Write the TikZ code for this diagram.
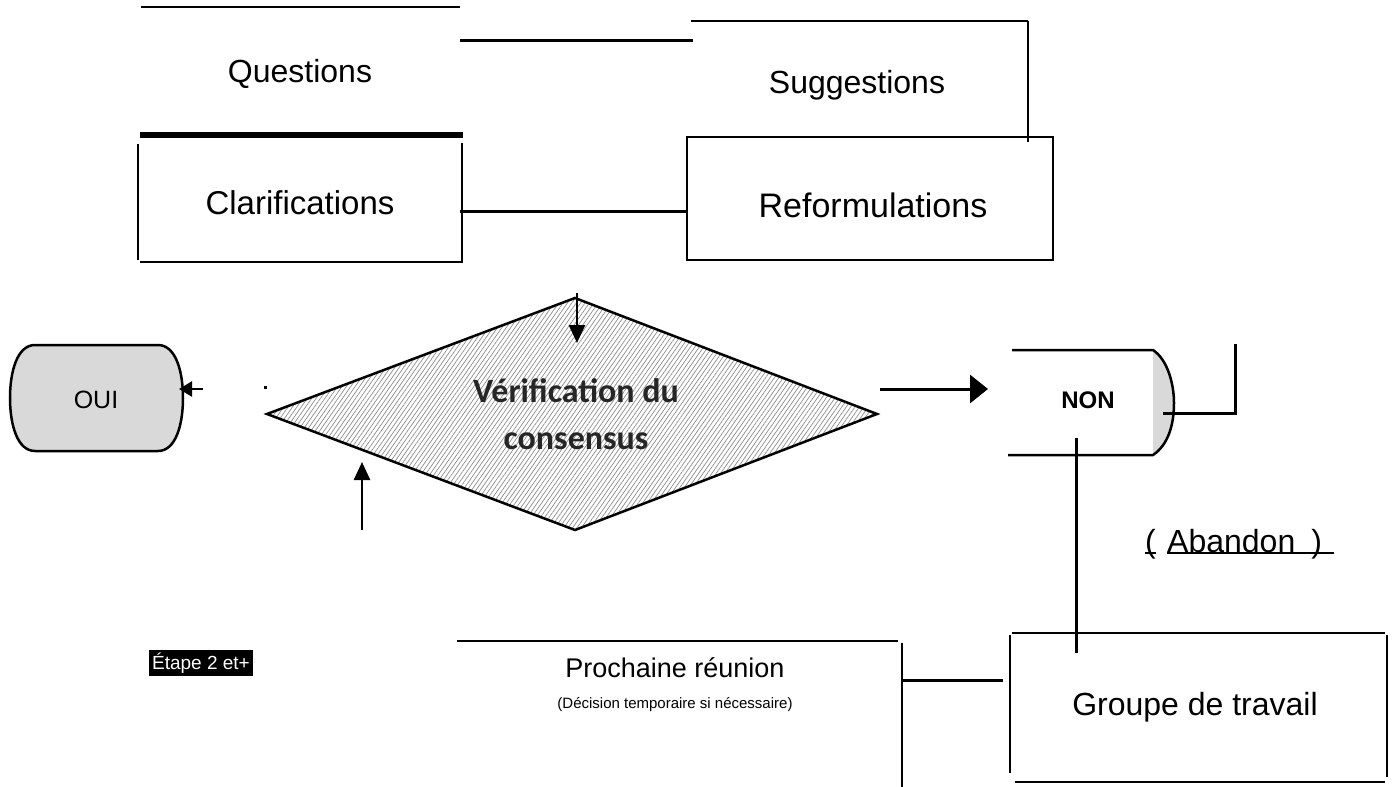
\documentclass[tikz,border=0pt]{standalone}
\usepackage{fontspec}
\setmainfont{Liberation Sans}
\newfontfamily\calib{Carlito}
\usetikzlibrary{arrows.meta,patterns.meta}
\definecolor{lgray}{HTML}{D9D9D9}
\begin{document}
\begin{tikzpicture}[x=1pt,y=-1pt,
  thinln/.style={line width=1.5pt},
  midln/.style={line width=2.5pt},
  conn/.style={line width=3pt},
  lbl/.style={font=\fontsize{32}{38}\selectfont, inner sep=0pt},
  small/.style={font=\fontsize{15}{18}\selectfont, inner sep=0pt},
  arr/.style={line width=2.5pt, -{Triangle[length=18pt,width=16pt]}},
]
\useasboundingbox (0,0) rectangle (1398,787);
% ---- top left: Questions / Clarifications
\node[lbl] (q) at (300,74) {Questions};
\node[lbl, font=\fontsize{33}{39}\selectfont] (c) at (300,203) {Clarifications};
\draw[midln] (141,7) -- (460,7);
\draw[line width=6pt] (140,135) -- (463,135);
\draw[thinln] (138,144) -- (138,260);
\draw[thinln] (462,143) -- (462,262) -- (140,262);
% ---- Suggestions / Reformulations
\node[lbl] (s) at (857,85) {Suggestions};
\draw[thinln] (691,21) -- (1028,21);
\draw[line width=2pt] (1028,21) -- (1028,142);
\node[draw, thinln, minimum width=366pt, minimum height=123pt, inner sep=0pt] (rbox) at (870,198.5) {};
\node[lbl, font=\fontsize{34}{40}\selectfont] (r) at (873,205) {Reformulations};
% connectors top
\coordinate (qr) at (460,40);
\coordinate (sl) at (693,40);
\draw[conn] (qr) -- (sl);
\coordinate (cr) at (460,211);
\draw[conn] (cr) -- (rbox.west |- cr);
% ---- diamond
\path[pattern={Lines[angle=55,distance=3.6pt,line width=0.7pt]}, pattern color=black!45]
  (267,414) -- (575,298) -- (877,414) -- (575,530) -- cycle;
\draw[midln] (267,414) -- (575,298) -- (877,414) -- (575,530) -- cycle;
\node[font=\calib\bfseries\fontsize{34}{47}\selectfont, text=black!85, align=center, inner sep=0pt] (d) at (576,414)
  {Vérification du\\consensus};
\coordinate (dtop) at (577,293);
\coordinate (dtopend) at (577,343);
\draw[arr] (dtop) -- (dtopend);
\coordinate (upst) at (362,530);
\coordinate (upend) at (362,462);
\draw[arr] (upst) -- (upend);
\fill (264,386) rectangle (267,389);
% ---- OUI
\path[fill=lgray, draw=black, midln]
  (35,345) -- (158,345) .. controls (176,345) and (183,372) .. (183,398)
  .. controls (183,424) and (176,451) .. (158,451) -- (35,451)
  .. controls (17,451) and (10,424) .. (10,398)
  .. controls (10,372) and (17,345) .. (35,345) -- cycle;
\node[font=\fontsize{25}{30}\selectfont, inner sep=0pt] (oui) at (96,400) {OUI};
\coordinate (ouiarr) at (203,389);
\coordinate (ouitip) at (179,389);
\draw[line width=2.5pt, -{Triangle[length=13pt,width=15pt]}] (ouiarr) -- (ouitip);
% ---- NON
\fill[lgray] (1153,350) .. controls (1168,360) and (1174,385) .. (1174,403)
  .. controls (1174,425) and (1168,445) .. (1153,455) -- cycle;
\draw[midln] (1012,350) -- (1153,350) .. controls (1168,360) and (1174,385) .. (1174,403)
  .. controls (1174,425) and (1168,445) .. (1153,455) -- (1008,455);
\node[font=\bfseries\fontsize{24}{29}\selectfont, inner sep=0pt] (non) at (1088,400) {NON};
\coordinate (dright) at (880,389);
\coordinate (nontip) at (988,389);
\draw[conn, -{Triangle[length=18pt,width=28pt]}] (dright) -- (nontip);
\coordinate (nonr) at (1163,413);
\coordinate (nonup) at (1235,344);
\draw[conn] (nonr) -- (nonup |- nonr) -- (nonup);
\coordinate (vtop) at (1076,438);
\coordinate (vbot) at (1076,653);
\draw[conn] (vtop) -- (vbot);
% ---- Abandon
\node[lbl, anchor=base west] (abp) at (1145,552) {(};
\node[lbl, anchor=base west] (abt) at (1167,552) {Abandon\hspace{16pt})};
\draw[midln] ([yshift=-1pt]abp.base west) -- ([yshift=-1pt]abp.base east);
\draw[midln] ([yshift=-1pt]abt.base west) -- ([yshift=-1pt,xshift=12pt]abt.base east);
% ---- Groupe de travail
\node[lbl] (g) at (1195,707) {Groupe de travail};
\draw[thinln] (1012,633) -- (1385,633);
\draw[thinln] (1010,635) -- (1010,773);
\draw[thinln] (1387,635) -- (1387,777);
\draw[line width=2pt] (1015,782) -- (1385,782);
% ---- Prochaine reunion
\node[font=\fontsize{27}{32}\selectfont, inner sep=0pt] (p) at (675,668) {Prochaine réunion};
\node[small] (p2) at (675,705) {(Décision temporaire si nécessaire)};
\draw[thinln] (457,641) -- (898,641);
\draw[thinln] (902,643) -- (902,787);
\coordinate (pr) at (902,680);
\draw[conn] (pr) -- (1003,680);
% ---- Etape
\node[fill=black, text=white, font=\fontsize{19}{23}\selectfont, inner sep=3pt] (etape) at (201,663) {Étape 2 et+};
\end{tikzpicture}
\end{document}
